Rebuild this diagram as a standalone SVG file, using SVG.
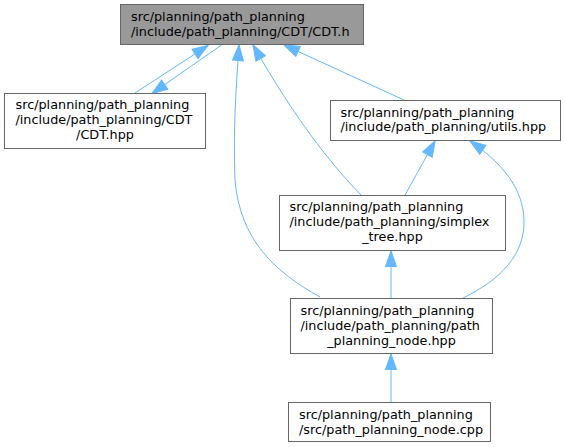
<svg xmlns="http://www.w3.org/2000/svg" width="565" height="447" viewBox="0 0 565 447">
<style>
.box{fill:#ffffff;stroke:#666666;stroke-width:1}
.cur{fill:#999999;stroke:#666666;stroke-width:1}
text{font-family:"DejaVu Sans",sans-serif;font-size:12.8px;fill:#000000}
.m{text-anchor:middle}
.e{fill:none;stroke:#63b8ff;stroke-width:1;marker-end:url(#arr)}
</style>
<defs>
<marker id="arr" markerUnits="userSpaceOnUse" markerWidth="16" markerHeight="12" viewBox="0 0 14 10" refX="13.5" refY="5" orient="auto" overflow="visible">
<path d="M0,0.3 L13.5,5 L0,9.7 z" fill="#63b8ff" stroke="#63b8ff" stroke-width="1"/>
</marker>
</defs>
<g id="edges">
<path class="e" d="M135,93 L208,45.5"/>
<path class="e" d="M221.5,45 L152,93.5"/>
<path class="e" d="M320,297 C275,272 240,240 235,180 C233,130 236,90 239,45"/>
<path class="e" d="M361,195 C330,163 296,120 253,45"/>
<path class="e" d="M404,100 L284,45"/>
<path class="e" d="M405,195 L435,141"/>
<path class="e" d="M463,298 C500,280 525,255 524,220 C523,190 505,165 470,141"/>
<path class="e" d="M391,298 L391,251"/>
<path class="e" d="M391,402 L391,354"/>
</g>
<g id="node1">
<rect class="cur" x="120.5" y="4.5" width="243" height="40"/>
<text x="131" y="21">src/planning/path_planning</text>
<text x="131" y="36">/include/path_planning/CDT/CDT.h</text>
</g>
<g id="node2">
<rect class="box" x="4.5" y="93.5" width="201" height="55"/>
<text x="15.5" y="109">src/planning/path_planning</text>
<text x="15.5" y="124">/include/path_planning/CDT</text>
<text class="m" x="105" y="139">/CDT.hpp</text>
</g>
<g id="node3">
<rect class="box" x="330.5" y="100.5" width="230" height="40"/>
<text x="340.5" y="116.5">src/planning/path_planning</text>
<text x="340.5" y="131">/include/path_planning/utils.hpp</text>
</g>
<g id="node4">
<rect class="box" x="279.5" y="195.5" width="226" height="55"/>
<text x="289.5" y="211">src/planning/path_planning</text>
<text x="289.5" y="226">/include/path_planning/simplex</text>
<text class="m" x="392.5" y="241">_tree.hpp</text>
</g>
<g id="node5">
<rect class="box" x="290.5" y="298.5" width="202" height="55"/>
<text x="300.5" y="315">src/planning/path_planning</text>
<text x="300.5" y="330">/include/path_planning/path</text>
<text class="m" x="391.5" y="344.5">_planning_node.hpp</text>
</g>
<g id="node6">
<rect class="box" x="288.5" y="402.5" width="202" height="39"/>
<text x="299" y="418.5">src/planning/path_planning</text>
<text x="299" y="433.5">/src/path_planning_node.cpp</text>
</g>
</svg>
